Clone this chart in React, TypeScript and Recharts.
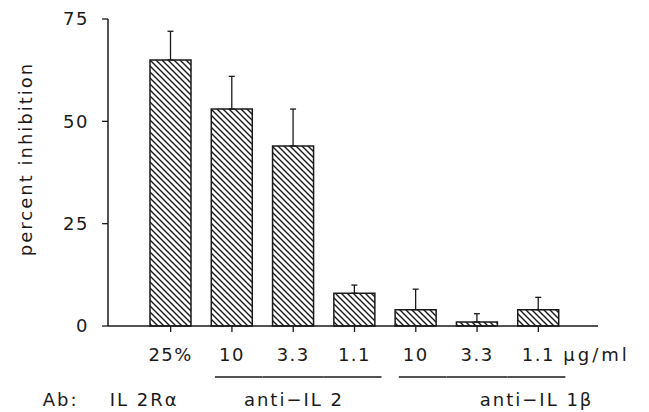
import { BarChart, Bar, XAxis, YAxis, ErrorBar } from 'recharts';

// bar labels (concentration) along the x axis
const categories = ['25%', '10', '3.3', '1.1', '10', '3.3', '1.1'];
const inhibition = [65, 53, 44, 8, 4, 1, 4];
const sem = [7, 8, 9, 2, 5, 2, 3];
const yTicks = [0, 25, 50, 75];
const unitLabel = 'μg/ml';
const abLabel = 'Ab:';
// antibody groups: name, first and last bar index
const groupNames = ['IL 2Rα', 'anti−IL 2', 'anti−IL 1β'];
const groupFrom = [0, 1, 4];
const groupTo = [0, 3, 6];
const underlined = [false, true, true];

const data = categories.map((c, i) => ({
  conc: c,
  value: inhibition[i],
  err: [0, sem[i]],
}));

const FONT = '"DejaVu Sans", sans-serif';
const INK = '#1a1a1a';
const HALF_BAND = 30.6;
const labelOffsets = [-61, 12, 64];

const XTick = (props: any) => {
  const { x, y, payload } = props;
  const i = payload.index;
  const g = groupFrom.findIndex((f, k) => i >= f && i <= groupTo[k]);
  const isFirst = groupFrom[g] === i;
  const isLast = groupTo[g] === i;
  return (
    <g fontFamily={FONT} fill={INK} fontSize={18} letterSpacing={1.5}>
      <text x={x} y={y + 27} textAnchor="middle">{payload.value}</text>
      {i === categories.length - 1 && (
        <text x={x + 25} y={y + 27} letterSpacing={3}>{unitLabel}</text>
      )}
      {underlined[g] && (
        <line
          x1={isFirst ? x - 17 : x - HALF_BAND}
          x2={isLast ? x + 27 : x + HALF_BAND}
          y1={y + 43}
          y2={y + 43}
          stroke={INK}
          strokeWidth={1.4}
        />
      )}
      {isFirst && (
        <text x={x + labelOffsets[g]} y={y + 72} letterSpacing={2}>{groupNames[g]}</text>
      )}
      {i === 0 && (
        <text x={x - 128} y={y + 72} letterSpacing={2}>{abLabel}</text>
      )}
    </g>
  );
};

const YLabel = () => {
  const cx = 25;
  const cy = 159;
  return (
    <text
      x={cx}
      y={cy}
      transform={`rotate(-90 ${cx} ${cy})`}
      textAnchor="middle"
      dominantBaseline="central"
      fontFamily={FONT}
      fontSize={18}
      letterSpacing={2}
      fill={INK}
    >
      percent inhibition
    </text>
  );
};

export default function App() {
  return (
    <div style={{ width: 649, height: 412, background: '#fff', position: 'relative' }}>
      <style>{'body{margin:0}'}</style>
      <svg width={0} height={0} style={{ position: 'absolute' }}>
        <defs>
          <pattern id="hatch" patternUnits="userSpaceOnUse" width={6} height={6}>
            <path d="M0,0 L6,6 M-1,5 L1,7 M5,-1 L7,1" stroke={INK} strokeWidth={1.4} />
          </pattern>
        </defs>
      </svg>
      <BarChart
        width={649}
        height={412}
        data={data}
        margin={{ top: 19, right: 51, bottom: 0, left: 0 }}
        barSize={41}
      >
        <XAxis
          dataKey="conc"
          height={86}
          padding={{ left: 32, right: 29 }}
          axisLine={{ stroke: INK, strokeWidth: 1.5 }}
          tickLine={{ stroke: INK, strokeWidth: 1.3 }}
          tickSize={6}
          tick={<XTick />}
          interval={0}
        />
        <YAxis
          width={108}
          domain={[0, 75]}
          ticks={yTicks}
          axisLine={{ stroke: INK, strokeWidth: 1.5 }}
          tickLine={{ stroke: INK, strokeWidth: 1.3 }}
          tickSize={6}
          tickMargin={13}
          tick={{ fill: INK, fontSize: 18, fontFamily: FONT, letterSpacing: 1.5 }}
          label={{ content: <YLabel /> }}
        />
        <Bar
          dataKey="value"
          fill="url(#hatch)"
          stroke={INK}
          strokeWidth={1.5}
          isAnimationActive={false}
        >
          <ErrorBar dataKey="err" width={3} stroke={INK} strokeWidth={1.3} direction="y" />
        </Bar>
      </BarChart>
    </div>
  );
}
